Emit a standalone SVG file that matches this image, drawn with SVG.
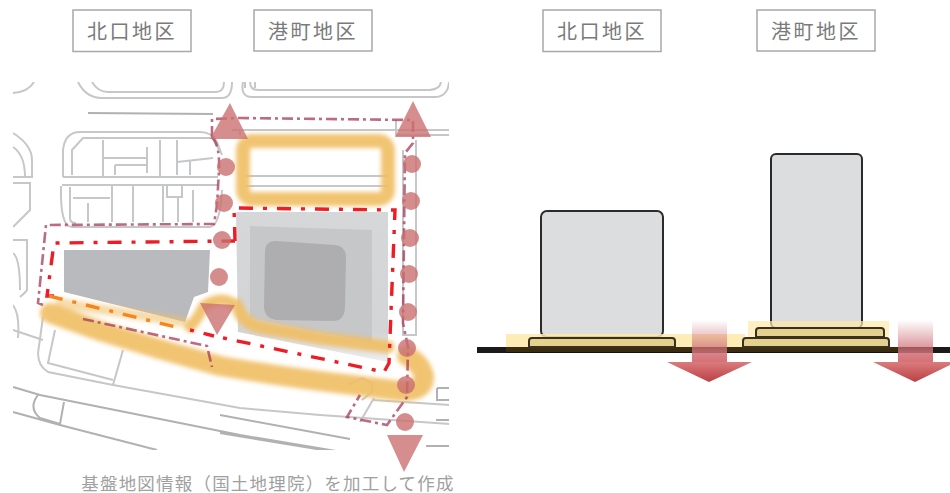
<svg xmlns="http://www.w3.org/2000/svg" width="950" height="493" viewBox="0 0 950 493">
<style>
.lbl{fill:#fff;stroke:#a8a8a8;stroke-width:1.5}
.lt{font-family:"Noto Sans CJK JP","Noto Sans",sans-serif;font-size:20px;letter-spacing:2.5px;fill:#7a7a7a;text-anchor:middle}
.road{fill:none;stroke:#c6c7c9;stroke-width:2}
.road2{fill:none;stroke:#b0b1b3;stroke-width:2}
.band{fill:none;stroke:#f0bf66;stroke-linejoin:round;stroke-linecap:round}
.pale{fill:none;stroke:#a53a58;stroke-width:2.6;stroke-dasharray:11 4 3 4;opacity:.75}
.red{fill:none;stroke:#ee1c25;stroke-width:3.4;stroke-dasharray:14 10 4 10}
.dot{fill:#c96f70;opacity:.8}
.tri{fill:#cc7072;opacity:.8}
.bld{fill:#dcddde;stroke:#2b2b2b;stroke-width:2}
.base{fill:#e4d08f;stroke:#3a3020;stroke-width:2}
.yel{fill:#fde9a9;opacity:.85}
</style>
<defs>
<clipPath id="mapclip"><rect x="13" y="82" width="436" height="368"/></clipPath>
<filter id="soft" x="-10%" y="-10%" width="120%" height="120%"><feGaussianBlur stdDeviation="0.7"/></filter>
<filter id="softs" x="-10%" y="-10%" width="120%" height="120%"><feGaussianBlur stdDeviation="0.4"/></filter>
<filter id="softb" x="-10%" y="-10%" width="120%" height="120%"><feGaussianBlur stdDeviation="2"/></filter>
<linearGradient id="sh" x1="0" y1="0" x2="0" y2="1"><stop offset="0" stop-color="#cf7078" stop-opacity="0"/><stop offset="0.75" stop-color="#cf7078" stop-opacity=".85"/><stop offset="1" stop-color="#d46f72"/></linearGradient>
<linearGradient id="hd" x1="0" y1="0" x2="0" y2="1"><stop offset="0" stop-color="#d97b7d"/><stop offset="1" stop-color="#bb4044"/></linearGradient>
<linearGradient id="blk" x1="0" y1="0" x2="0" y2="1"><stop offset="0" stop-color="#d6d7d9"/><stop offset="0.8" stop-color="#d3d4d6"/><stop offset="1" stop-color="#eceef2"/></linearGradient>
</defs>
<g id="map">
<g filter="url(#soft)" clip-path="url(#mapclip)">
<path class="road" d="M13,93Q28,92 34,82M78,82Q86,98 102,98L222,98Q232,98 232,82M92,82Q98,92 108,92L216,92Q224,92 224,82M243,82Q240,97 252,97L436,97Q448,96 449,82M250,82Q250,90 258,90L430,90Q440,89 441,82M245,82V88M255,82V88"/>
<path class="road2" d="M88,113L213,114" stroke-width="3"/>
<path class="road" d="M63,177V150Q65,132 80,132L200,132Q212,132 217,142L222,155M72,175V150L83,138L213,138L219,150M63,177L218,177M62,185L218,185M61,186Q60,227 72,227L210,227Q220,226 222,190M70,187V218Q70,223 76,223"/>
<path class="road" d="M103,140V177M103,158H147M147,147V173M115,165V175M115,165H147M160,140V177M177,140V175M177,162L213,158M190,160V175M73,198H110M112,185V222M133,185V222M163,185V222M167,185H182V197H167ZM178,197V222M193,190V222M88,203V222"/>
<path class="road" d="M13,133Q32,145 32,160V177H13M13,147Q25,155 25,177M13,183H30V210L13,227M13,240H27V290Q26,292 20,297M13,253Q20,258 20,290M13,305Q20,315 18,338"/>
<path class="road" d="M13,330L43,340M43,317L38,353Q38,366 48,372L113,385L240,408L320,415L450,424M55,330L48,363L113,380M123,350L113,385M373,400L450,405"/>
<path class="road2" d="M13,387L40,395L240,435L450,470M13,412L60,425L157,450M220,415L350,439M220,433L323,450M38,395Q28,408 40,418L60,424L64,402M437,388H449M437,388V400H449M436,420H449M426,446H449"/>
<path class="road" d="M232,130H396M240,130V135M396,120V135H449M396,130H449M403,150V335H416V140M246,176H388M246,186H388"/>
<path class="road" d="M348,385L362,378L372,383L372,392L362,400M374,398L360,422"/>
</g>
<path d="M64,250L210,250L208,292L194,297L185,322L64,292Z" fill="#b9babd"/>
<path d="M236,212L388,212L388,362L238,332Z" fill="url(#blk)"/>
<path d="M250,226L372,230L372,343L250,318Z" fill="#c6c7c9"/>
<path d="M276,241L335,245Q346,246 346,258L345,306Q345,321 333,321L276,320Q264,318 264,306L265,252Q265,241 276,241Z" fill="#aeaeb0"/>
<g filter="url(#softb)" opacity=".92">
<rect class="band" x="243" y="141" width="145" height="58" rx="9" stroke-width="14" fill="none"/>
<path class="band" stroke-width="20" d="M50,313L100,331Q160,350 220,366Q290,378 353,385L400,391Q425,392 424,376Q420,362 407,356"/>
<path class="band" stroke-width="13" d="M237,305Q242,325 265,328L320,338L388,347"/>
<path class="band" stroke-width="11" d="M190,327Q198,318 204,306Q220,296 232,303"/>
<path class="band" stroke-width="10" opacity=".6" d="M60,303L183,322"/>
</g>
<g filter="url(#softs)">
<path class="pale" d="M212,137V119L240,118L413,120V143L405,153L403,323L408,347L407,397L387,425L347,417L360,395"/>
<path class="pale" d="M212,137Q220,145 219,170L217,205L214,224L46,225L38,303L43,305M83,319L207,346L212,367"/>
<path class="red" d="M54,296L47,296L54,243L235,241"/>
<path class="red" d="M235,241L234,208L395,210L389,363L384,372L214,336"/>
<path d="M49,296L180,328" fill="none" stroke="#f7841f" stroke-width="3.4" stroke-dasharray="14 10 4 10"/>
<path d="M190,330L214,336" fill="none" stroke="#ee1c25" stroke-width="3.4" stroke-dasharray="4 10 14 10"/>
</g>
<path class="tri" d="M230,103L210,139L248,139Z"/>
<path class="tri" d="M413,101L395,137L431,137Z"/>
<path class="tri" d="M200,303L235,305L217,335Z"/>
<path class="tri" d="M387,435L423,435L404,472Z"/>
<circle class="dot" cx="226" cy="167" r="9"/>
<circle class="dot" cx="224" cy="203" r="9"/>
<circle class="dot" cx="222" cy="240" r="9"/>
<circle class="dot" cx="219" cy="277" r="9"/>
<circle class="dot" cx="412" cy="164" r="9"/>
<circle class="dot" cx="411" cy="201" r="9"/>
<circle class="dot" cx="410" cy="238" r="9"/>
<circle class="dot" cx="409" cy="274" r="9"/>
<circle class="dot" cx="408" cy="312" r="9"/>
<circle class="dot" cx="407" cy="348" r="9"/>
<circle class="dot" cx="406" cy="385" r="9"/>
<circle class="dot" cx="405" cy="422" r="9"/>
</g>
<g id="label-kitaguchi-map"><rect class="lbl" x="73" y="10" width="118" height="41.500"/><text class="lt" x="132" y="38.500">北口地区</text></g>
<g id="label-minatomachi-map"><rect class="lbl" x="254" y="10" width="118" height="41"/><text class="lt" x="313" y="38.500">港町地区</text></g>
<g id="label-kitaguchi-section"><rect class="lbl" x="543" y="10" width="118" height="41.500"/><text class="lt" x="602" y="38.500">北口地区</text></g>
<g id="label-minatomachi-section"><rect class="lbl" x="757" y="10" width="118" height="41"/><text class="lt" x="816" y="38.500">港町地区</text></g>
<g id="section">
<rect x="477" y="347" width="473" height="6" fill="#1c1a1a"/>
<rect x="541" y="211" width="122" height="126" rx="6" class="bld"/>
<rect x="771" y="154" width="91" height="174" rx="5" class="bld"/>
<path class="yel" d="M506,334H745V348H506Z"/>
<rect x="748" y="321" width="141" height="28" fill="#fde9a9" opacity=".7"/>
<path d="M506,347H898V353H506Z" fill="#3a2c10"/>
<path d="M506,352H898V353H506Z" fill="#111"/>
<path class="base" d="M529,347V341Q529,338 532,338H672Q675,338 675,341V347Z"/>
<path class="base" d="M756,337V331Q756,328 759,328H881Q884,328 884,331V337Z"/>
<path class="base" d="M743,347V341Q743,338 746,338H886Q889,338 889,341V347Z"/>
<rect x="692" y="320" width="35" height="43" fill="url(#sh)"/>
<path d="M667,362H752L709,382Z" fill="url(#hd)"/>
<rect x="898" y="320" width="35" height="43" fill="url(#sh)"/>
<path d="M873,362H950V365L915,382Z" fill="url(#hd)"/>
</g>
<text x="268" y="490" font-family="'Noto Sans CJK JP','Noto Sans',sans-serif" font-size="17.500" letter-spacing="1.200" fill="#a0a0a0" text-anchor="middle">基盤地図情報（国土地理院）を加工して作成</text>
</svg>
